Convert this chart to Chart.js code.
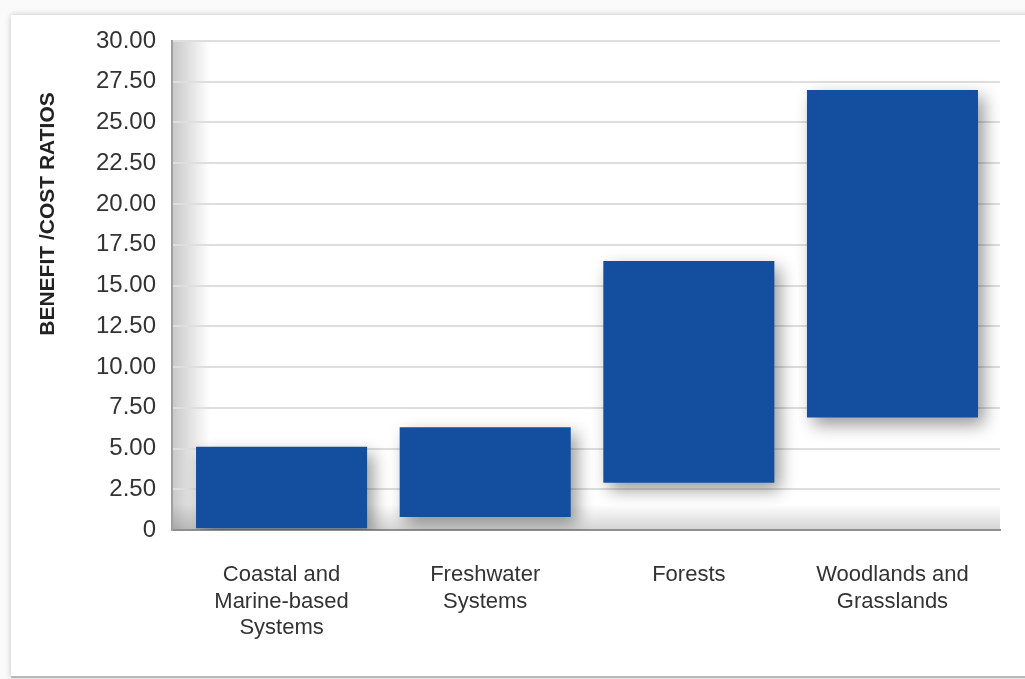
<!DOCTYPE html>
<html>
<head>
<meta charset="utf-8">
<script src="https://cdn.jsdelivr.net/npm/chart.js@4"></script>
<style>
    html, body { margin: 0; padding: 0; background: #f4f4f4; }
    #wrap { position: relative; width: 1025px; height: 679px; overflow: hidden; background: #fafafa; }
    .card {
        position: absolute; left: 11px; top: 15px; width: 1030px; height: 661px;
        background: #fff; box-shadow: 0 0 6px rgba(0,0,0,0.22);
        border-bottom: 2px solid #b9b9b9;
    }
    canvas { position: absolute; left: 0; top: 0; }
</style>
</head>
<body>
<div id="wrap">
    <div class="card"></div>
    <canvas id="ratioChart" width="1025" height="679"></canvas>
</div>
<script>
// カテゴリ
const categories = [
    ['Coastal and', 'Marine-based', 'Systems'],
    ['Freshwater', 'Systems'],
    ['Forests'],
    ['Woodlands and', 'Grasslands']
];
// 便益/費用比の下限・上限
const lowValues = [0.1, 0.8, 2.9, 6.9];
const highValues = [5.1, 6.3, 16.5, 27.0];
const yTitle = 'BENEFIT /COST RATIOS';

const FONT = '"Liberation Sans", Arial, sans-serif';

// 壁と床の陰影
const wallPlugin = {
    id: 'wall',
    beforeDraw(chart) {
        const { ctx, chartArea: a } = chart;
        ctx.save();
        let g = ctx.createLinearGradient(a.left, 0, a.left + 38, 0);
        g.addColorStop(0, 'rgba(0,0,0,0.22)');
        g.addColorStop(1, 'rgba(0,0,0,0)');
        ctx.fillStyle = g;
        ctx.fillRect(a.left, a.top, 38, a.bottom - a.top);
        g = ctx.createLinearGradient(0, a.bottom - 26, 0, a.bottom);
        g.addColorStop(0, 'rgba(0,0,0,0)');
        g.addColorStop(1, 'rgba(0,0,0,0.17)');
        ctx.fillStyle = g;
        ctx.fillRect(a.left, a.bottom - 26, a.right - a.left, 26);
        ctx.restore();
    }
};

// バーの影
const shadowPlugin = {
    id: 'barShadow',
    beforeDatasetsDraw(chart) {
        const ctx = chart.ctx;
        ctx.save();
        ctx.shadowColor = 'rgba(0,0,0,0.4)';
        ctx.shadowBlur = 16;
        ctx.shadowOffsetX = 6;
        ctx.shadowOffsetY = 7;
    },
    afterDatasetsDraw(chart) {
        chart.ctx.restore();
    }
};

// 縦軸タイトル
const yTitlePlugin = {
    id: 'yTitle',
    afterDraw(chart) {
        const ctx = chart.ctx;
        ctx.save();
        ctx.translate(48, 214);
        ctx.rotate(-Math.PI / 2);
        ctx.font = 'bold 21px ' + FONT;
        ctx.fillStyle = '#222';
        ctx.textAlign = 'center';
        ctx.textBaseline = 'middle';
        ctx.fillText(yTitle, 0, 0);
        ctx.restore();
    }
};

function drawChart() {
    const ctx = document.getElementById('ratioChart').getContext('2d');
    new Chart(ctx, {
        type: 'bar',
        data: {
            datasets: [{
                data: lowValues.map((v, i) => ({ x: i, y: [v, highValues[i]] })),
                backgroundColor: '#134f9e',
                borderWidth: 0,
                borderSkipped: false,
                barPercentage: 0.84,
                categoryPercentage: 1.0
            }]
        },
        options: {
            responsive: false,
            animation: false,
            layout: { padding: { top: 41, right: 25, left: 0, bottom: 0 } },
            plugins: {
                legend: { display: false },
                tooltip: { enabled: false }
            },
            scales: {
                x: {
                    type: 'linear',
                    offset: false,
                    min: -0.538,
                    max: 3.528,
                    afterFit: (s) => { s.height = 149; },
                    afterBuildTicks: (s) => { s.ticks = categories.map((c, i) => ({ value: i })); },
                    grid: { display: false },
                    border: { display: true, color: '#8f8f8f', width: 2 },
                    ticks: {
                        color: '#333',
                        padding: 24,
                        maxRotation: 0,
                        autoSkip: false,
                        font: { family: FONT, size: 22, lineHeight: 1.2 },
                        callback: (v) => categories[v] || ''
                    }
                },
                y: {
                    min: 0,
                    max: 30,
                    afterFit: (s) => { s.width = 172; },
                    border: { display: true, color: '#a0a0a0', width: 2 },
                    grid: { color: '#dedede', lineWidth: 2, drawTicks: false },
                    ticks: {
                        stepSize: 2.5,
                        color: '#333',
                        padding: 16,
                        font: { family: FONT, size: 24 },
                        callback: (v) => v === 0 ? '0' : v.toFixed(2)
                    }
                }
            }
        },
        plugins: [wallPlugin, shadowPlugin, yTitlePlugin]
    });
}

document.addEventListener('DOMContentLoaded', drawChart);
</script>
</body>
</html>
